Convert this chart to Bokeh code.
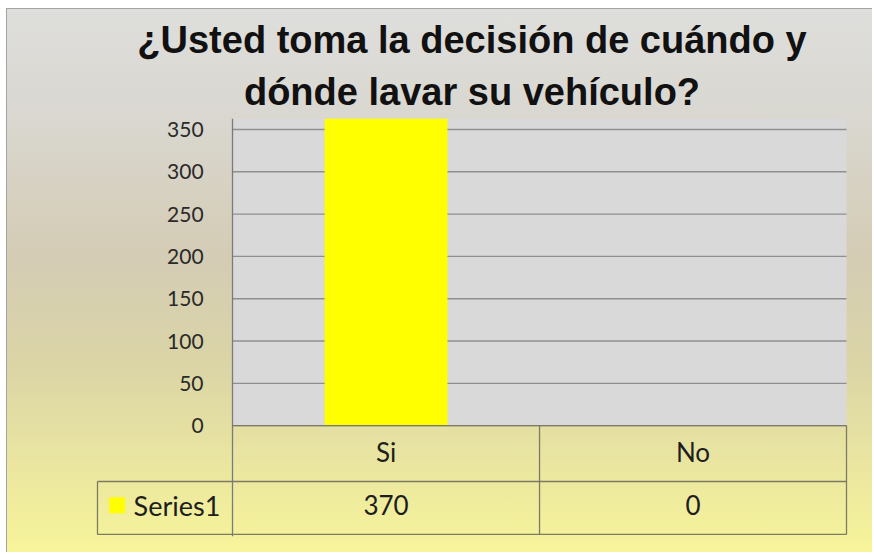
from bokeh.plotting import figure
from bokeh.models import Range1d, FixedTicker, BoxAnnotation, Title
from bokeh.embed import file_html
from bokeh.resources import INLINE
from bokeh.core.properties import value

# ---------------- data ----------------
title_lines = ["¿Usted toma la decisión de cuándo y", "dónde lavar su vehículo?"]
categories = ["Si", "No"]
series_name = "Series1"
series_values = [370, 0]
y_ticks = [0, 50, 100, 150, 200, 250, 300, 350]
y_axis_max = 363

# ---------------- styling / layout ----------------
BAR_COLOR = "#ffff00"
PLOT_BG = "#d9d9d9"
GRID_COLOR = "#8f8f8f"
TABLE_LINE = "#7d7a66"
TEXT_FONT = "Lato"
TITLE_FONT = "Liberation Sans"

LEFT_COL = 0.44       # width of the series-name column, in category units
ROW1 = -66.0          # header row bottom (value units below 0)
ROW2 = -128.5         # table bottom

n = len(categories)
xs = [i + 0.5 for i in range(n)]

p = figure(
    width=866, height=544,
    x_range=Range1d(-LEFT_COL - 0.0065, n + 0.0065),
    y_range=Range1d(-131, y_axis_max),
    output_backend="svg", toolbar_location=None,
    min_border_left=89, min_border_right=24,
    min_border_top=110, min_border_bottom=16,
    styles={
        "margin-left": "6px",
        "margin-top": "8px",
        "background": "linear-gradient(to bottom, #dededc 0%, #d9d7d0 20%, #d4ccb5 45%, #dad4a6 65%, #ebe7a0 85%, #f7f49a 100%)",
        "box-shadow": "inset 1px 1px 0 0 #a3a3a3",
    },
)
p.border_fill_color = None
p.border_fill_alpha = 0
p.background_fill_color = None
p.background_fill_alpha = 0
p.outline_line_color = None

# title: two centred lines (first added sits closest to the plot)
for line, standoff in ((title_lines[1], 12), (title_lines[0], 4)):
    p.add_layout(Title(text=line, align="center", text_font=TITLE_FONT,
                       text_font_style="bold", text_font_size="38px",
                       text_color="#111111", standoff=standoff), "above")

# axes
p.xaxis.visible = False
p.xgrid.visible = False
p.ygrid.visible = False
yax = p.yaxis[0]
yax.fixed_location = 0
yax.ticker = FixedTicker(ticks=y_ticks)
yax.major_tick_line_color = None
yax.minor_tick_line_color = None
yax.major_tick_out = 0
yax.major_tick_in = 0
yax.axis_line_color = "#7a7a7a"
yax.axis_line_width = 1.3
yax.major_label_standoff = 29
yax.major_label_text_font = TEXT_FONT
yax.major_label_text_font_size = "21px"
yax.major_label_text_color = "#2a2a2a"

# plot-area fill (only above the data table)
p.add_layout(BoxAnnotation(left=0, right=n, bottom=0, fill_color=PLOT_BG,
                           fill_alpha=1, line_color=None, level="image"))

# horizontal gridlines
p.segment(x0=[0] * len(y_ticks), x1=[n] * len(y_ticks), y0=y_ticks, y1=y_ticks,
          line_color=GRID_COLOR, line_width=1.4)

# bars
p.vbar(x=xs, top=series_values, width=0.4, fill_color=BAR_COLOR, line_color=None)

# data table lines
hx0 = [0, -LEFT_COL, -LEFT_COL]
hx1 = [n, n, n]
hy = [0, ROW1, ROW2]
p.segment(x0=hx0, x1=hx1, y0=hy, y1=hy, line_color=TABLE_LINE, line_width=1.3)
vx = [float(i) for i in range(1, n + 1)] + [-LEFT_COL]
vy0 = [0] * n + [ROW1]
vy1 = [ROW2] * n + [ROW2]
p.segment(x0=vx, x1=vx, y0=vy0, y1=vy1, line_color=TABLE_LINE, line_width=1.3)

# table texts
row1_mid = -31
row2_mid = -94
p.text(x=xs, y=[row1_mid] * n, text=categories, text_align="center",
       text_baseline="middle", text_font=value(TEXT_FONT), text_font_size="26px",
       text_color="#1e1e1e")
p.text(x=xs, y=[row2_mid] * n, text=[str(v) for v in series_values],
       text_align="center", text_baseline="middle", text_font=value(TEXT_FONT),
       text_font_size="26px", text_color="#1e1e1e")
p.text(x=[-LEFT_COL + 0.1175], y=[row2_mid], text=[series_name], text_align="left",
       text_baseline="middle", text_font=value(TEXT_FONT), text_font_size="27px",
       text_color="#1e1e1e")
p.scatter(x=[-LEFT_COL + 0.064], y=[row2_mid], marker="square", size=16,
          fill_color=BAR_COLOR, line_color=None)

open("out.html", "w").write(file_html(p, INLINE))
